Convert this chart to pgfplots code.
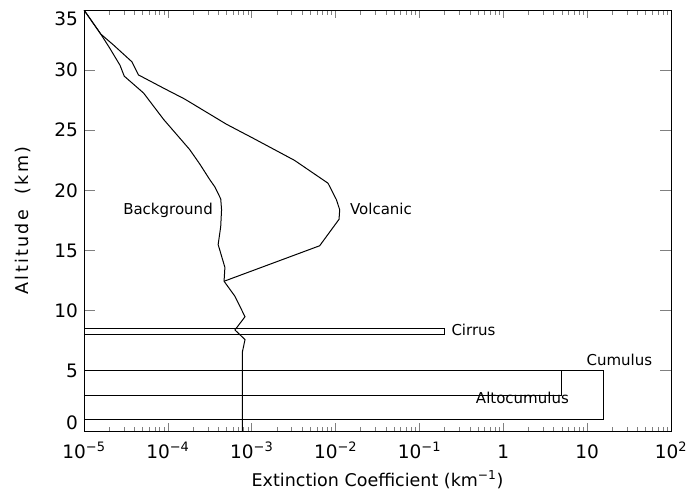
\documentclass[border=0pt]{standalone}
\usepackage{fontspec}
\setmainfont{DejaVu Sans}
\usepackage{pgfplots}
\pgfplotsset{compat=1.18}
\begin{document}
\begin{tikzpicture}
\useasboundingbox (-84pt,-65pt) rectangle (608pt,431pt);
\begin{axis}[
  at={(0pt,0pt)}, anchor=south west,
  scale only axis, width=587pt, height=421pt,
  xmode=log, xmin=1e-5, xmax=1e2, ymin=0, ymax=35,
  axis line style={line width=0.9pt},
  xtick={1e-5,1e-4,1e-3,1e-2,1e-1,1,10,100},
  xticklabels={10\textsuperscript{−5},10\textsuperscript{−4},10\textsuperscript{−3},10\textsuperscript{−2},10\textsuperscript{−1},1,10,10\textsuperscript{2}},
  ytick={0,5,10,15,20,25,30,35},
  yticklabels={\raisebox{8pt}{0},5,10,15,20,25,30,\raisebox{-9pt}{35}},
  minor y tick num=0,
  tick align=inside,
  x tick style={line width=0.7pt},
  y tick style={line width=0.9pt},
  xtick style={/pgfplots/major tick length=8pt,/pgfplots/minor tick length=4.5pt},
  ytick style={/pgfplots/major tick length=11pt},
  tick label style={font=\fontsize{18.5}{21}\selectfont, inner sep=0pt},
  xticklabel style={anchor=base, yshift=-27pt},
  yticklabel style={anchor=base east, xshift=-6pt, yshift=-6.7pt},
  xlabel={Extinction Coefficient (km\textsuperscript{−1})},
  ylabel={\addfontfeature{LetterSpace=13}Altitude \ (km)},
  label style={font=\fontsize{17.5}{20}\selectfont, inner sep=0pt},
  xlabel style={at={(axis description cs:0.5,0)}, anchor=base, yshift=-55pt},
  ylabel style={at={(axis description cs:0,0.5)}, anchor=center, yshift=60.5pt},
  every axis plot/.append style={line width=1pt, black},
]
% Background
\addplot[sharp plot] coordinates {
(1e-5,35) (1.585e-5,33) (2.04e-5,31.8) (2.69e-5,30.4) (3.02e-5,29.5)
(5.13e-5,28.1) (8.91e-5,25.9) (1.82e-4,23.4) (2.40e-4,22.2) (3.16e-4,20.9)
(3.63e-4,20.3) (4.27e-4,19.3) (4.37e-4,18.4) (4.27e-4,17.0) (3.98e-4,15.5)
(4.79e-4,13.6) (4.68e-4,12.45) (6.31e-4,11.2) (8.32e-4,9.5) (6.31e-4,8.4)
(8.32e-4,7.6) (7.76e-4,6.6) (7.76e-4,0)
};
% Volcanic
\addplot[sharp plot] coordinates {
(1e-5,35) (1.585e-5,33) (2.24e-5,32.1) (3.72e-5,30.7) (4.47e-5,29.6)
(8.91e-5,28.5) (1.585e-4,27.6) (5.01e-4,25.5) (1.10e-3,24.25) (3.24e-3,22.5)
(8.13e-3,20.6) (1.02e-2,19.25) (1.12e-2,18.4) (1.10e-2,17.6) (6.46e-3,15.4)
(4.68e-4,12.45)
};
% Cirrus
\addplot[line width=0.8pt] coordinates {(1e-5,8) (0.2,8) (0.2,8.5) (1e-5,8.5)};
% Cumulus
\addplot[line width=0.8pt] coordinates {(1e-5,1) (15.5,1) (15.5,5) (1e-5,5)};
% Altocumulus
\addplot[line width=0.8pt] coordinates {(1e-5,3) (4.9,3) (4.9,5)};
\begin{scope}[every node/.style={font=\fontsize{15}{18}\selectfont, inner sep=0pt}]
\node[anchor=base east] at (axis cs:3.45e-4,18) {Background};
\node[anchor=base west] at (axis cs:0.0148,18) {Volcanic};
\node[anchor=base west] at (axis cs:0.24,7.97) {Cirrus};
\node[anchor=base west] at (axis cs:9.8,5.42) {Cumulus};
\node[anchor=base west] at (axis cs:0.47,2.28) {Altocumulus};
\end{scope}
\end{axis}
\end{tikzpicture}
\end{document}
